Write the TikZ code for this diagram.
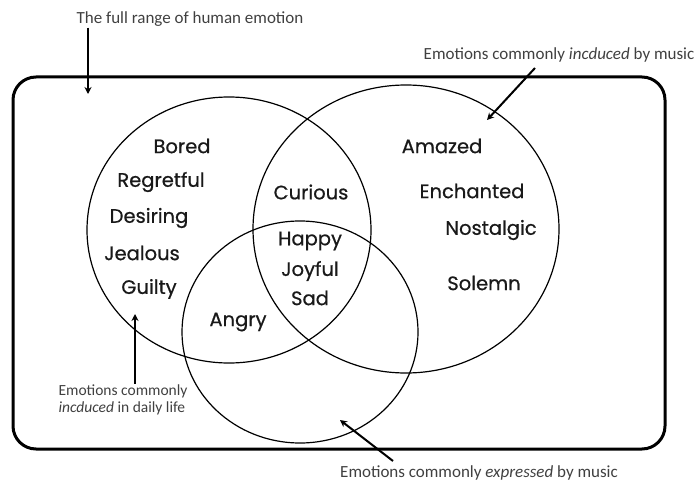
\documentclass[tikz,border=0pt]{standalone}
\usepackage{fontspec}
\setmainfont{Carlito}
\newfontfamily\wordfont[FakeBold=0.6]{Poppins}
\usetikzlibrary{positioning,arrows.meta}

\tikzset{
  emotion/.style={font=\wordfont\fontsize{19.5}{22}\selectfont, text=black!90, inner sep=1pt},
  caption/.style={font=\fontsize{17}{19}\selectfont, text=black!75, inner sep=1pt},
  set/.style={line width=1.2pt},
  pointer/.style={line width=2pt, -{Stealth[length=7pt,width=7pt]}}
}

\begin{document}
\begin{tikzpicture}[x=1pt,y=-1pt]
  \useasboundingbox (0,0) rectangle (700,481);

  % all emotions
  \draw[line width=3pt, rounded corners=23pt] (13,77) rectangle (665,449);

  % the three sets
  \draw[set] (229,230) ellipse [x radius=142, y radius=133];
  \draw[set] (406,229) ellipse [x radius=153, y radius=144];
  \draw[set] (300,332) ellipse [x radius=118, y radius=111];

  % daily life only
  \node[emotion] (bored) at (182,146) {Bored};
  \node[emotion] (regretful) at (161,182) {Regretful};
  \node[emotion] (desiring) at (149,218) {Desiring};
  \node[emotion] (jealous) at (142,253) {Jealous};
  \node[emotion] (guilty) at (149,289) {Guilty};

  % overlaps
  \node[emotion] (curious) at (311,192) {Curious};
  \node[emotion] (happy) at (310,241) {Happy};
  \node[emotion] (joyful) at (310,271) {Joyful};
  \node[emotion] (sad) at (310,298) {Sad};
  \node[emotion] (angry) at (238,322) {Angry};

  % music only
  \node[emotion] (amazed) at (442,146) {Amazed};
  \node[emotion] (enchanted) at (472,191) {Enchanted};
  \node[emotion] (nostalgic) at (491,230) {Nostalgic};
  \node[emotion] (solemn) at (484,283) {Solemn};

  % captions
  \node[caption] (fullrange) at (190,19) {The full range of human emotion};
  \node[caption] (induced) at (559,55) {Emotions commonly \textit{incduced} by music};
  \node[caption, align=left, font=\fontsize{15.5}{17}\selectfont] (daily) at (123,400) {Emotions commonly\\\textit{incduced} in daily life};
  \node[caption] (expressed) at (479,473) {Emotions commonly \textit{expressed} by music};

  \coordinate (fulltip) at (88,94);
  \coordinate (inducedtip) at (487,120);
  \coordinate (dailytip) at (135,314);
  \coordinate (expressedtip) at (340,420);

  \draw[pointer] (fullrange.south west -| fulltip) -- (fulltip);
  \draw[pointer] (535,68) -- (inducedtip);
  \draw[pointer] (daily.north -| dailytip) -- (dailytip);
  \draw[pointer] (393,461) -- (expressedtip);
\end{tikzpicture}
\end{document}
